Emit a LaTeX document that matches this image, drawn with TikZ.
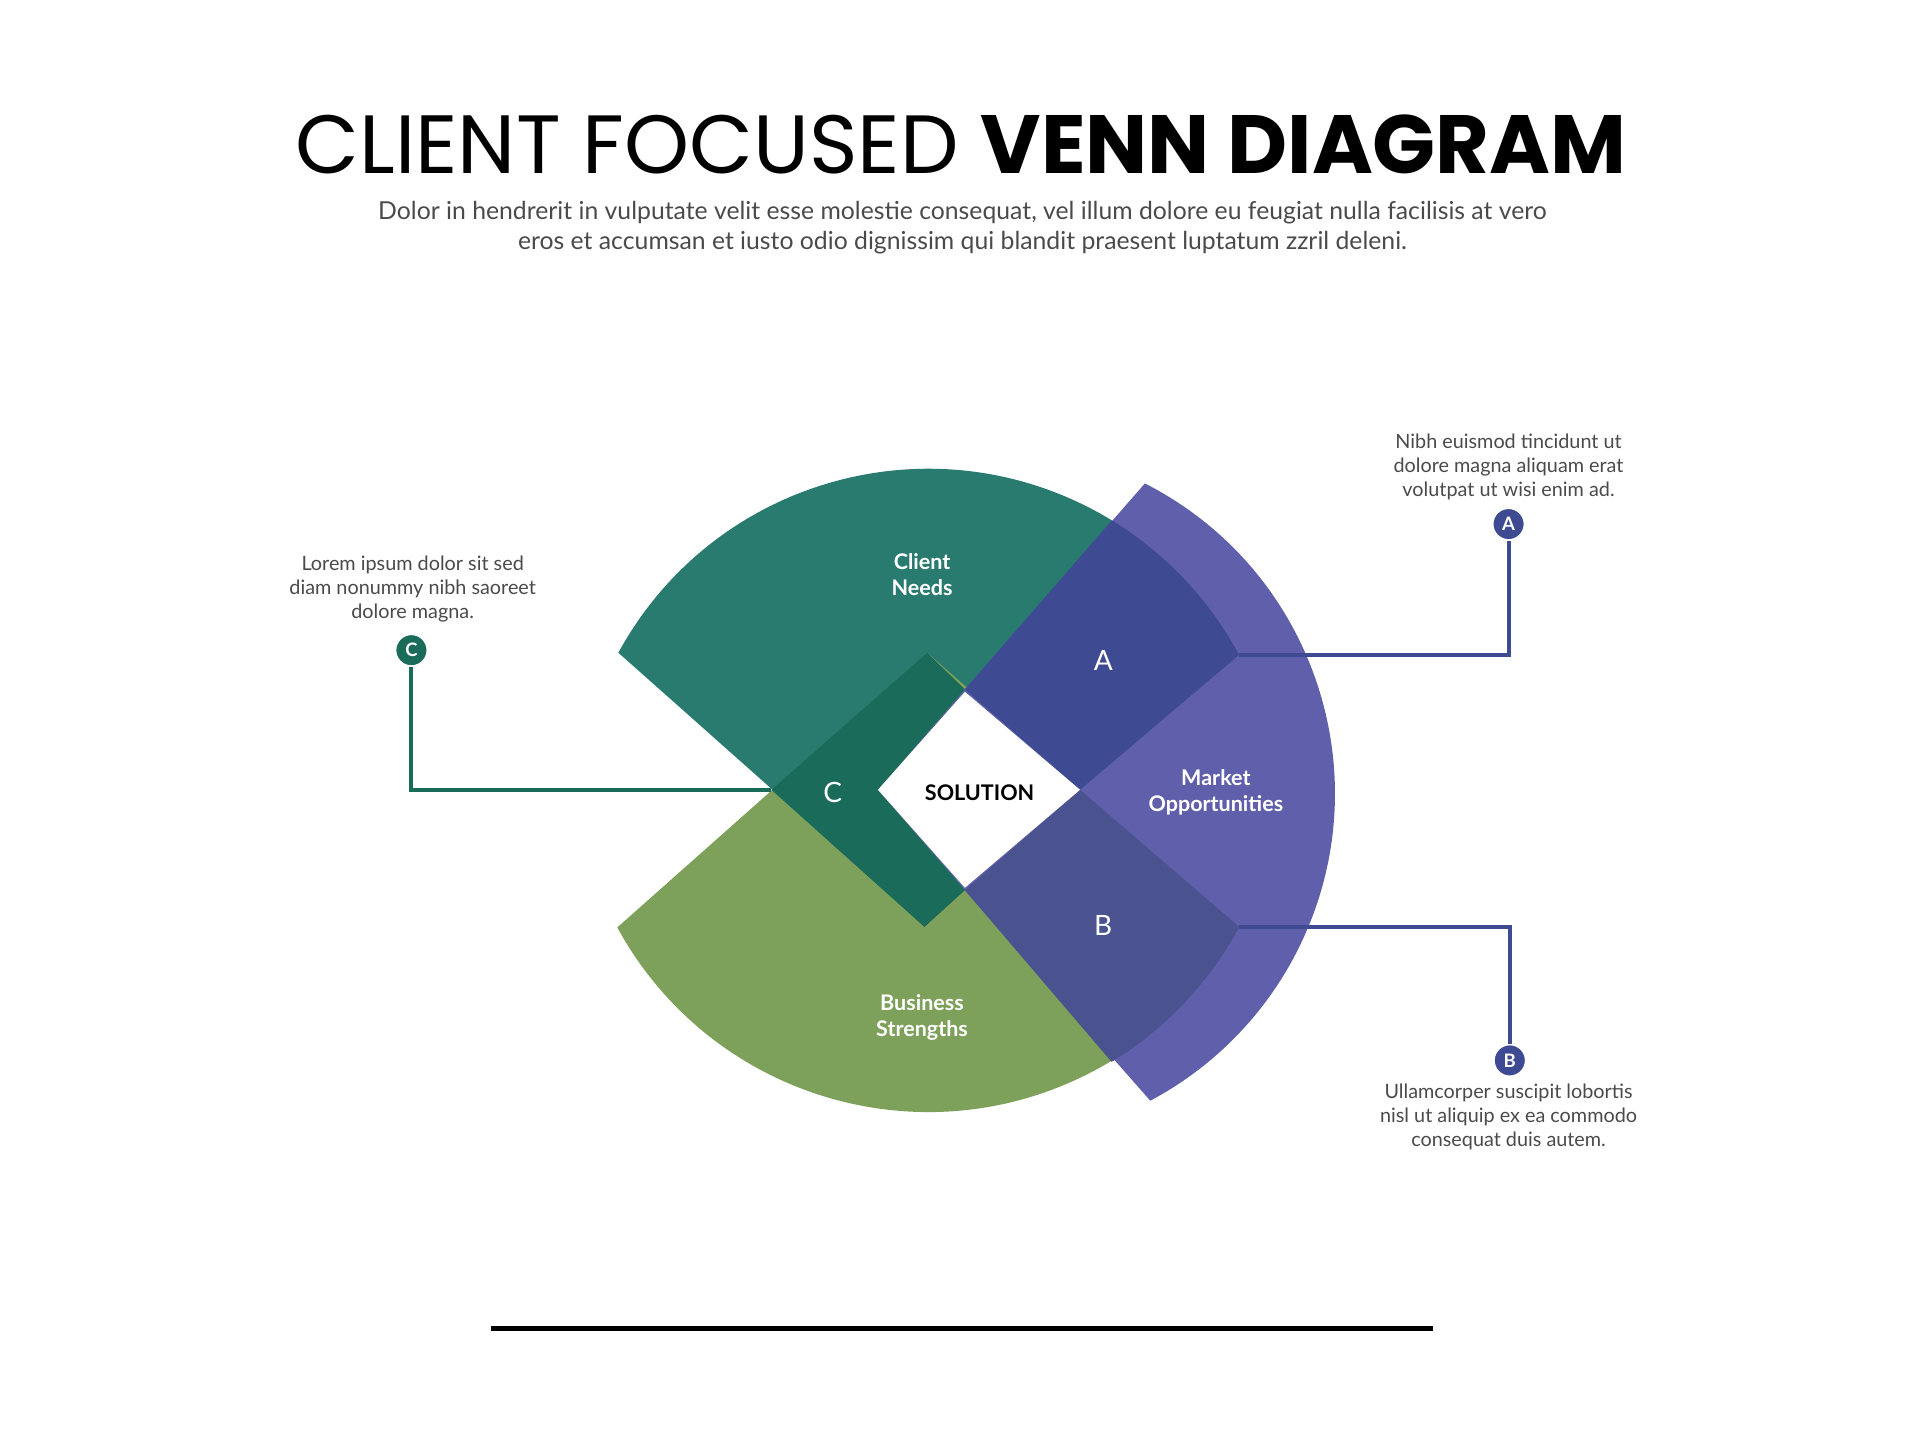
\documentclass[tikz,border=0pt]{standalone}
\usepackage{fontspec}
\setmainfont{Lato}
\newfontfamily\titlefont{Poppins}
\definecolor{teal1}{HTML}{2A7B6F}
\definecolor{green1}{HTML}{7DA05A}
\definecolor{purple1}{HTML}{5F5FAB}
\definecolor{blueA}{HTML}{3E4B93}
\definecolor{blueB}{HTML}{4A5290}
\definecolor{darkC}{HTML}{1B6B5A}
\definecolor{txtgrey}{HTML}{4A4A4A}
\tikzset{
	region/.style={draw=none},%
	label/.style={text=white,font=\fontsize{5}{6}\selectfont\bfseries,align=center},%
	letter/.style={text=white,font=\fontsize{6.5}{7}\selectfont},%
	note/.style={text=txtgrey,font=\fontsize{4.6}{5.6}\selectfont,align=center},%
	dot/.style={circle,fill=#1,draw=white,line width=0.4pt,inner sep=0pt,minimum size=0.26cm,text=white,font=\fontsize{4.3}{5}\selectfont\bfseries},%
	leader/.style={line width=0.9pt},%
}
\begin{document}
\begin{tikzpicture}[x=0.01cm,y=0.01cm]
	\useasboundingbox (0,0) rectangle (1568,-1176);
	% Title {{{
	\node (title) at (785,-118) {\titlefont\fontsize{19.2}{23}\selectfont CLIENT FOCUSED \textbf{VENN DIAGRAM}};
	\node[note,font=\fontsize{5.75}{7}\selectfont] (subtitle) at (786,-186) {Dolor in hendrerit in vulputate velit esse molestie consequat, vel illum dolore eu feugiat nulla facilisis at vero\\eros et accumsan et iusto odio dignissim qui blandit praesent luptatum zzril deleni.};
	% }}}
	% Circles {{{
	\fill[teal1] (758,-671) ++(151.4:2.88cm) arc[start angle=151.4,end angle=28.2,radius=2.88cm] -- (757,-757) -- cycle;
	\fill[green1] (758,-619) ++(-151.4:2.89cm) arc[start angle=-151.4,end angle=-28.2,radius=2.89cm] -- (757,-533) -- cycle;
	\fill[purple1] (806,-648) ++(63:2.84cm) arc[start angle=63,end angle=-62,radius=2.84cm] -- (788,-727) -- (717,-645) -- (788,-563) -- cycle;
	% }}}
	% Overlaps {{{
	\fill[blueA] (788,-563) -- (908,-425) arc[start angle=58.6,end angle=28.2,radius=2.88cm] -- (882,-645) -- cycle;
	\fill[blueB] (788,-727) -- (882,-645) -- (1012,-757) arc[start angle=-28.2,end angle=-58.6,radius=2.89cm] -- cycle;
	\fill[darkC] (757,-533) -- (630,-645) -- (755,-757) -- (788,-727) -- (717,-645) -- (788,-563) -- cycle;
	\fill[white] (717,-645) -- (788,-565) -- (882,-645) -- (788,-725) -- cycle;
	% }}}
	% Labels {{{
	\node[label] (needs) at (753,-469) {Client\\Needs};
	\node[label] (strengths) at (753,-831) {Business\\Strengths};
	\node[label] (market) at (993,-647) {Market\\Opportunities};
	\node[font=\fontsize{5}{6}\selectfont\bfseries] (solution) at (800,-647) {SOLUTION};
	\node[letter] (lA) at (901,-539) {A};
	\node[letter] (lB) at (901,-756) {B};
	\node[letter] (lC) at (680,-647) {C};
	% }}}
	% Callouts {{{
	\coordinate (endA) at (1012,-535);
	\coordinate (endB) at (1012,-757);
	\coordinate (endC) at (630,-645);
	\node[dot=blueA] (dA) at (1232,-428) {A};
	\node[dot=blueA] (dB) at (1233,-866) {B};
	\node[dot=darkC] (dC) at (336,-531) {C};
	\draw[leader,blueA] (dA) |- (endA);
	\draw[leader,blueA] (dB) |- (endB);
	\draw[leader,darkC] (dC) |- (endC);
	\node[note] (noteA) at (1232,-381) {Nibh euismod tincidunt ut\\dolore magna aliquam erat\\volutpat ut wisi enim ad.};
	\node[note] (noteB) at (1232,-912) {Ullamcorper suscipit lobortis\\nisl ut aliquip ex ea commodo\\consequat duis autem.};
	\node[note] (noteC) at (337,-481) {Lorem ipsum dolor sit sed\\diam nonummy nibh saoreet\\dolore magna.};
	% }}}
	\coordinate (rule1) at (401,-1085);
	\coordinate (rule2) at (1170,-1085);
	\draw[line width=1.2pt] (rule1) -- (rule2);
\end{tikzpicture}
\end{document}
